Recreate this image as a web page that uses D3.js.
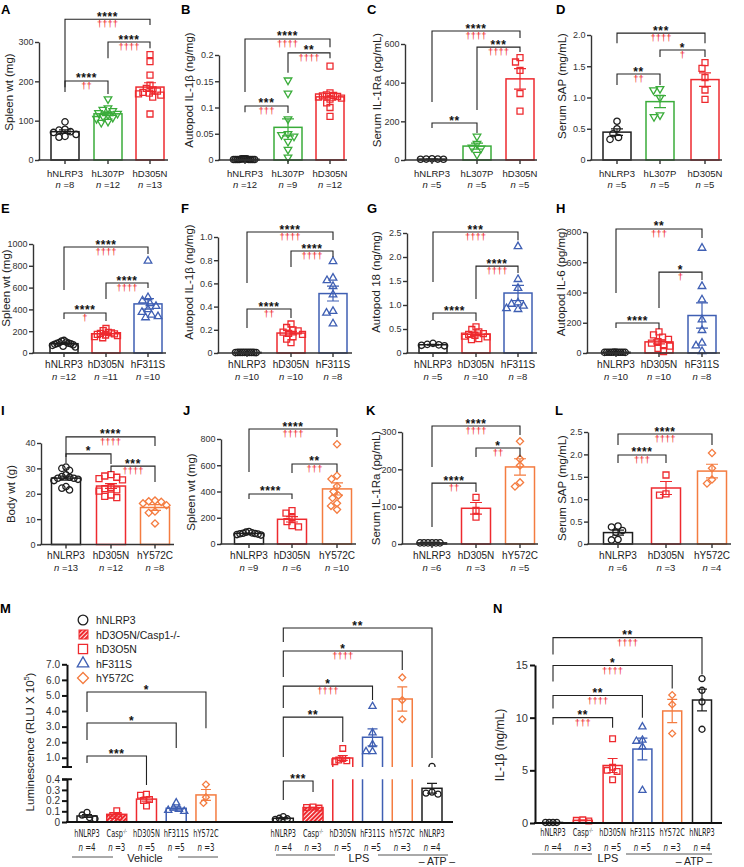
<!DOCTYPE html>
<html>
<head>
<meta charset="utf-8">
<script src="https://cdn.jsdelivr.net/npm/d3@7"></script>
<style>
  body { margin: 0; background: #fff; }
  svg { font-family: "Liberation Sans", Arial, sans-serif; }
</style>
</head>
<body>
<svg id="fig" width="744" height="867"></svg>
<script>
// group names for each row
const row1Groups = ["hNLRP3", "hL307P", "hD305N"];
const row2Groups = ["hNLRP3", "hD305N", "hF311S"];
const row3Groups = ["hNLRP3", "hD305N", "hY572C"];

// significance: [from, to, line value, left leg end, right leg end, stars, daggers]
// A - spleen wt
const aN = [8, 12, 13];
const aPts = [[97, 78, 76, 72, 70, 65, 60, 58],
  [155, 132, 128, 125, 120, 118, 115, 110, 108, 105, 98, 95],
  [268, 250, 216, 190, 182, 178, 175, 172, 170, 168, 165, 160, 117]];
const aTicks = [0, 100, 200, 300];
const aSig = [[0, 2, 358, 173, 343, "****", "††††"], [1, 2, 300, 259, 284, "****", "††††"], [0, 1, 201, 185, 168, "****", "††"]];

// B - autopod IL-1b
const bN = [12, 9, 12];
const bPts = [[0.002, 0.001, 0.001, 0.002, 0.001, 0.001, 0.002, 0.001, 0.001, 0.002, 0.001, 0.001],
  [0.152, 0.127, 0.078, 0.05, 0.048, 0.045, 0.035, 0.02, 0.005],
  [0.179, 0.128, 0.124, 0.123, 0.122, 0.121, 0.12, 0.118, 0.116, 0.109, 0.1, 0.083]];
const bTicks = [0, 0.05, 0.1, 0.15, 0.2];
const bSig = [[0, 2, 0.2305, 0.1295, 0.215, "****", "††††"], [1, 2, 0.204, 0.166, 0.194, "**", "††††"], [0, 1, 0.103, 0.091, 0.0895, "***", "†††"]];

// C - serum IL-1Ra
const cN = [5, 5, 5];
const cPts = [[6, 5, 5, 4, 4], [122, 85, 65, 60, 28], [530, 507, 464, 344, 253]];
const cTicks = [0, 200, 400, 600];
const cSig = [[0, 2, 667, 300, 631, "****", "††††"], [1, 2, 584, 259, 558, "***", "††††"], [0, 1, 191, 165, 140, "**", ""]];

// D - serum SAP
const dN = [5, 5, 5];
const dPts = [[0.62, 0.5, 0.42, 0.36, 0.33], [1.14, 1.12, 1.0, 0.72, 0.69], [1.557, 1.467, 1.32, 1.12, 0.97]];
const dTicks = [0, 0.5, 1, 1.5, 2];
const dSig = [[0, 2, 2.03, 1.87, 1.87, "***", "††††"], [1, 2, 1.76, 1.648, 1.648, "*", "†"], [0, 1, 1.376, 1.2, 1.2, "**", "††"]];

// E - spleen wt
const eN = [12, 11, 10];
const ePts = [[115, 110, 100, 95, 90, 88, 85, 80, 75, 70, 62, 55],
  [225, 205, 190, 185, 180, 175, 170, 165, 160, 150, 140],
  [845, 510, 480, 455, 430, 400, 375, 350, 335, 325]];
const eTicks = [0, 200, 400, 600, 800, 1000];
const eSig = [[0, 2, 972, 578, 908, "****", "††††"], [1, 2, 642, 495, 596, "****", "††††"], [0, 1, 367, 312, 293, "****", "†"]];

// F - autopod IL-1b
const fN = [10, 10, 8];
const fPts = [[0.005, 0.005, 0.004, 0.005, 0.006, 0.005, 0.004, 0.005, 0.005, 0.006],
  [0.25, 0.22, 0.2, 0.19, 0.18, 0.17, 0.16, 0.14, 0.12, 0.09],
  [0.79, 0.647, 0.626, 0.575, 0.503, 0.36, 0.345, 0.253]];
const fTicks = [0, 0.2, 0.4, 0.6, 0.8, 1];
const fSig = [[0, 2, 1.043, 0.603, 0.974, "****", "††††"], [1, 2, 0.879, 0.741, 0.828, "****", "††††"], [0, 1, 0.379, 0.216, 0.302, "****", "††"]];

// G - autopod 18
const gN = [5, 10, 8];
const gPts = [[0.2, 0.18, 0.17, 0.16, 0.15],
  [0.545, 0.49, 0.44, 0.405, 0.39, 0.37, 0.35, 0.335, 0.3, 0.28],
  [2.22, 1.535, 1.35, 1.05, 1.02, 0.98, 0.93, 0.91]];
const gTicks = [0, 0.5, 1, 1.5, 2, 2.5];
const gSig = [[0, 2, 2.52, 1.48, 2.35, "***", "††††"], [1, 2, 1.81, 1.125, 1.667, "****", "††††"], [0, 1, 0.833, 0.6875, 0.667, "****", ""]];

// H - autopod IL-6
const hN = [10, 10, 8];
const hPts = [[5, 5, 4, 5, 6, 5, 4, 5, 5, 6],
  [140, 120, 105, 90, 75, 65, 55, 45, 30, 10],
  [694, 441, 353, 220, 150, 66, 48, 11]];
const hTicks = [0, 200, 400, 600, 800];
const hSig = [[0, 2, 820, 397, 760, "**", "†††"], [1, 2, 535, 297, 483, "*", "†"], [0, 1, 198, 165, 159, "****", ""]];

// I - body wt
const iN = [13, 12, 8];
const iPts = [[30.5, 30, 29.2, 27.5, 26.8, 26.5, 26.1, 26.1, 25.7, 25.2, 22.8, 22.2, 21.5],
  [27.5, 27, 26.5, 26, 25.5, 22.5, 22, 21.5, 21, 19.5, 19, 18.5],
  [17.3, 17, 16.8, 16.2, 15.5, 13, 12.5, 8.3]];
const iTicks = [0, 10, 20, 30, 40];
const iSig = [[0, 2, 42.4, 34.5, 38.8, "****", "††††"], [0, 1, 35.7, 32.1, 31.7, "*", ""], [1, 2, 30.9, 28.6, 24.6, "***", "††††"]];

// J - spleen wt
const jN = [9, 6, 10];
const jPts = [[95, 90, 85, 82, 80, 78, 75, 72, 68],
  [255, 235, 200, 170, 140, 130],
  [760, 520, 495, 440, 400, 370, 350, 310, 290, 262]];
const jTicks = [0, 200, 400, 600, 800];
const jSig = [[0, 2, 876, 549, 815, "****", "††††"], [1, 2, 610, 541, 549, "**", "†††"], [0, 1, 381, 343, 343, "****", ""]];

// K - serum IL-1Ra
const kN = [6, 3, 5];
const kPts = [[3, 3, 3, 3, 3, 3], [125, 90, 72], [275, 228, 210, 165, 154]];
const kTicks = [0, 100, 200, 300];
const kSig = [[0, 2, 316, 206, 292, "****", "††††"], [1, 2, 257, 233, 233, "*", "††"], [0, 1, 163, 45.5, 139, "****", "††"]];

// L - serum SAP
const lN = [6, 3, 4];
const lPts = [[0.4, 0.38, 0.3, 0.26, 0.1, 0.09], [1.54, 1.12, 1.09], [2.03, 1.69, 1.44, 1.35]];
const lTicks = [0, 0.5, 1, 1.5, 2, 2.5];
const lSig = [[0, 2, 2.455, 2.21, 2.21, "****", "††††"], [0, 1, 1.987, 1.81, 1.81, "****", "†††"]];

// M - luminescence, broken axis
const mGroups = ["hNLRP3", "Casp", "hD305N", "hF311S", "hY572C", "hNLRP3", "Casp", "hD305N", "hF311S", "hY572C", "hNLRP3"];
const mN = [4, 3, 5, 5, 3, 4, 3, 5, 5, 3, 4];
const mPts = [[0.09, 0.065, 0.04, 0.03], [0.105, 0.06, 0.05], [0.26, 0.25, 0.21, 0.2, 0.15], [0.18, 0.13, 0.12, 0.11, 0.1], [0.35, 0.231, 0.178],
  [0.05, 0.035, 0.03, 0.025], [0.14, 0.135, 0.13], [1.6, 0.95, 0.85, 0.8, 0.75], [4.3, 2.6, 1.85, 1.4, 1.4], [6.16, 4.7, 3.47], [0.45, 0.28, 0.27, 0.26]];
const mUpTicks = [1, 2, 3, 4, 5, 6, 7];
const mLoTicks = [0, 0.1, 0.2, 0.3, 0.4];
const mSig = [[0, 4, 5.22, 3.93, 2.9, "*", ""], [0, 3, 3.23, 2.14, 1.62, "*", ""], [0, 2, 1.11, 0.66, 0.346, "***", ""],
  [5, 10, 9.33, 8.43, 0.98, "**", ""], [5, 9, 7.85, 6.18, 6.63, "*", "††††"], [5, 8, 5.6, 4.19, 4.71, "*", "††††"],
  [5, 7, 3.61, 1.05, 2.01, "**", ""], [5, 6, 0.383, 0.206, 0.28, "***", ""]];
const mLegend = ["hNLRP3", "hD3O5N/Casp1-/-", "hD3O5N", "hF311S", "hY572C"];
const mLegendKeys = ["hNLRP3", "Casp", "hD305N", "hF311S", "hY572C"];

// N - IL-1b
const nGroups = ["hNLRP3", "Casp", "hD305N", "hF311S", "hY572C", "hNLRP3"];
const nN = [4, 3, 5, 5, 3, 4];
const nPts = [[0.05, 0.05, 0.05, 0.05], [0.3, 0.25, 0.2], [8.0, 5.3, 5.0, 4.9, 4.1], [9.13, 7.87, 7.77, 7.23, 3.1], [12.15, 11.26, 8.5], [13.7, 12.6, 11.5, 8.9]];
const nTicks = [0, 5, 10, 15];
const nSig = [[0, 5, 17.6, 16.0, 14.1, "**", "††††"], [0, 4, 14.95, 13.43, 12.76, "*", "††††"], [0, 3, 12.1, 10.86, 10.0, "**", "††††"], [0, 2, 10.0, 9.33, 9.05, "**", "†††"]];

const svg = d3.select("#fig");
const color = { hNLRP3: "#1e1e1e", hL307P: "#3aac3a", hD305N: "#ee2a2f", Casp: "#ee2a2f", hF311S: "#3f5fb3", hY572C: "#f47c40" };
const shape = { hNLRP3: "circle", hL307P: "tridown", hD305N: "square", Casp: "square", hF311S: "tri", hY572C: "diamond" };
const symDef = {
  circle: [d3.symbolCircle, 32, 0],
  square: [d3.symbolSquare, 36, 0],
  tri: [d3.symbolTriangle, 25, 0],
  tridown: [d3.symbolTriangle, 25, 180],
  diamond: [d3.symbolSquare, 26, 45]
};
const f1 = v => v === 0 ? "0" : d3.format(".1f")(v);
const fs = v => String(v);
const fd = d3.format("d");

const defs = svg.append("defs");
const pat = defs.append("pattern").attr("id", "hatch").attr("patternUnits", "userSpaceOnUse")
  .attr("width", 3).attr("height", 3).attr("patternTransform", "rotate(45)");
pat.append("rect").attr("width", 3).attr("height", 3).attr("fill", "#ee2a2f");
pat.append("line").attr("x1", 0.5).attr("y1", 0).attr("x2", 0.5).attr("y2", 3).attr("stroke", "#fff").attr("stroke-width", 0.9);
defs.append("clipPath").attr("id", "upclip").append("rect").attr("x", 0).attr("y", 0).attr("width", 744).attr("height", 767.1);

function drawMarker(g, name, cx, cy, k) {
  const [t, s, rot] = symDef[shape[name]];
  return g.append("path").attr("d", d3.symbol(t, s * (k || 1))())
    .attr("transform", `translate(${cx},${cy}) rotate(${rot})`)
    .attr("fill", "none").attr("stroke", color[name]).attr("stroke-width", 1.3);
}

// spread points sideways so they do not sit on top of each other
function swarm(vals, yf, cx, r, hw) {
  const items = vals.map(v => ({ v: v, y: yf(v) }));
  const placed = [];
  const dmin = 2 * r * 0.95;
  items.slice().sort((a, b) => a.y - b.y).forEach(p => {
    let off = 0;
    for (let k = 0; k < 400; k++) {
      const o = (k % 2 ? -1 : 1) * Math.ceil(k / 2) * 0.5;
      if (placed.every(q => (q.dx - o) ** 2 + (q.y - p.y) ** 2 >= dmin * dmin)) { off = o; break; }
    }
    p.dx = off;
    placed.push(p);
  });
  const mx = d3.max(placed, p => Math.abs(p.dx)) || 1;
  const s = mx > hw ? hw / mx : 1;
  items.forEach(p => { p.x = cx + p.dx * s; });
  return items;
}

function sem(v) { return v.length > 1 ? d3.deviation(v) / Math.sqrt(v.length) : 0; }

function errBar(g, cx, y1, y2, col, cap) {
  g.append("path").attr("d", `M${cx},${y1}V${y2}M${cx - cap},${y1}H${cx + cap}M${cx - cap},${y2}H${cx + cap}`)
    .attr("fill", "none").attr("stroke", col).attr("stroke-width", 1.2);
}

function drawSig(g, xf, yf, sig) {
  sig.forEach(s => {
    const [i, j, lv, li, lj, st, dg] = s;
    g.append("path").attr("d", `M${xf(i)},${yf(li)}V${yf(lv)}H${xf(j)}V${yf(lj)}`)
      .attr("fill", "none").attr("stroke", "#222").attr("stroke-width", 1.1);
    const mx = (xf(i) + xf(j)) / 2;
    g.append("text").attr("x", mx).attr("y", yf(lv) + 1.5).attr("text-anchor", "middle")
      .attr("font-size", 12).attr("font-weight", "bold").attr("letter-spacing", 0.6).attr("fill", "#111").text(st);
    if (dg) g.append("text").attr("x", mx).attr("y", yf(lv) + 8).attr("text-anchor", "middle")
      .attr("font-size", 9.5).attr("fill", "#ee1c25").text(dg);
  });
}

function styleAxis(ax, size, sw, col) {
  ax.attr("font-family", null).attr("font-size", null);
  ax.select(".domain").attr("stroke", col).attr("stroke-width", sw);
  ax.selectAll(".tick line").attr("stroke", col).attr("stroke-width", sw);
  ax.selectAll(".tick text").attr("font-size", size).attr("fill", "#333");
}

function drawPanel(p) {
  const g = svg.append("g");
  const y = d3.scaleLinear().domain([0, d3.max(p.ticks)]).range([p.y0, p.yTop]);
  const x = d3.scaleOrdinal().domain(d3.range(p.groups.length)).range(p.centers);
  const bw = p.bw;

  g.append("text").attr("x", p.lx).attr("y", p.ly).attr("font-size", 13).attr("font-weight", "bold").text(p.L);
  g.append("text").attr("transform", `translate(${p.tx},${p.ty}) rotate(-90)`).attr("text-anchor", "middle")
    .attr("font-size", 11.5).attr("fill", "#222").text(p.title);

  p.groups.forEach((name, i) => {
    const v = p.pts[i], col = color[name];
    const m = d3.mean(v), se = sem(v);
    g.append("rect").attr("x", x(i) - bw / 2).attr("width", bw).attr("y", y(m)).attr("height", p.y0 - y(m))
      .attr("fill", "none").attr("stroke", col).attr("stroke-width", 1.5);
    if (se > 0) errBar(g, x(i), y(m - se), y(m + se), col, 6);
    swarm(v, y, x(i), 3.3, bw / 2 - 2.5).forEach(d => drawMarker(g, name, d.x, d.y));
    g.append("line").attr("x1", x(i)).attr("x2", x(i)).attr("y1", p.y0).attr("y2", p.y0 + 4)
      .attr("stroke", "#333").attr("stroke-width", 1.4);
    g.append("text").attr("x", x(i)).attr("y", p.labY).attr("text-anchor", "middle")
      .attr("font-size", p.labSize).attr("fill", "#222").text(name);
    const t = g.append("text").attr("x", x(i)).attr("y", p.nY).attr("text-anchor", "middle")
      .attr("font-size", 9.5).attr("fill", "#222");
    t.append("tspan").attr("font-style", "italic").text("n");
    t.append("tspan").text(" =" + p.n[i]);
  });

  const ax = g.append("g").attr("transform", `translate(${p.axisX},0)`)
    .call(d3.axisLeft(y).tickValues(p.ticks).tickFormat(p.fmt).tickSize(4).tickSizeOuter(0).tickPadding(1.5));
  styleAxis(ax, 9, 1.4, "#333");
  g.append("line").attr("x1", p.axisX - 0.7).attr("x2", p.xEnd).attr("y1", p.y0).attr("y2", p.y0)
    .attr("stroke", "#333").attr("stroke-width", 1.4);

  drawSig(g, x, y, p.sig);
}

const panels = [
  { L: "A", lx: 1, ly: 14, groups: row1Groups, n: aN, pts: aPts, ticks: aTicks, fmt: fd, sig: aSig, title: "Spleen wt (mg)", tx: 13, ty: 92, axisX: 39, centers: [65, 108, 150], y0: 160, yTop: 42, xEnd: 168, bw: 28, labY: 176.5, nY: 187.5, labSize: 9.5 },
  { L: "B", lx: 181, ly: 14, groups: row1Groups, n: bN, pts: bPts, ticks: bTicks, fmt: fs, sig: bSig, title: "Autopod IL-1β (ng/mg)", tx: 193, ty: 90, axisX: 219, centers: [245, 288, 330], y0: 160, yTop: 55, xEnd: 347, bw: 28, labY: 176.5, nY: 187.5, labSize: 9.5 },
  { L: "C", lx: 367, ly: 14, groups: row1Groups, n: cN, pts: cPts, ticks: cTicks, fmt: fd, sig: cSig, title: "Serum IL-1Ra (pg/mL)", tx: 381, ty: 90, axisX: 405, centers: [432, 477, 520], y0: 160, yTop: 44, xEnd: 537, bw: 28, labY: 176.5, nY: 187.5, labSize: 9.5 },
  { L: "D", lx: 556, ly: 14, groups: row1Groups, n: dN, pts: dPts, ticks: dTicks, fmt: f1, sig: dSig, title: "Serum SAP (mg/mL)", tx: 566, ty: 86, axisX: 591, centers: [617, 660, 705], y0: 160, yTop: 35, xEnd: 722, bw: 28, labY: 176.5, nY: 187.5, labSize: 9.5 },
  { L: "E", lx: 1, ly: 213, groups: row2Groups, n: eN, pts: ePts, ticks: eTicks, fmt: fd, sig: eSig, title: "Spleen wt (mg)", tx: 10, ty: 288, axisX: 33, centers: [64, 106, 148], y0: 353, yTop: 244, xEnd: 166, bw: 28, labY: 368, nY: 380, labSize: 10 },
  { L: "F", lx: 181, ly: 213, groups: row2Groups, n: fN, pts: fPts, ticks: fTicks, fmt: f1, sig: fSig, title: "Autopod IL-1β (ng/mg)", tx: 193, ty: 282, axisX: 218, centers: [247, 291, 333], y0: 353, yTop: 237, xEnd: 352, bw: 28, labY: 368, nY: 380, labSize: 10 },
  { L: "G", lx: 367, ly: 213, groups: row2Groups, n: gN, pts: gPts, ticks: gTicks, fmt: f1, sig: gSig, title: "Autopod 18 (ng/mg)", tx: 380, ty: 282, axisX: 407, centers: [433, 476, 518], y0: 353, yTop: 233, xEnd: 537, bw: 28, labY: 368, nY: 380, labSize: 10 },
  { L: "H", lx: 556, ly: 213, groups: row2Groups, n: hN, pts: hPts, ticks: hTicks, fmt: fd, sig: hSig, title: "Autopod IL-6 (pg/mg)", tx: 565, ty: 282, axisX: 587, centers: [616, 659, 702], y0: 353, yTop: 232, xEnd: 720, bw: 28, labY: 368, nY: 380, labSize: 10 },
  { L: "I", lx: 1, ly: 415, groups: row3Groups, n: iN, pts: iPts, ticks: iTicks, fmt: fd, sig: iSig, title: "Body wt (g)", tx: 15, ty: 494, axisX: 41, centers: [66, 111, 155], y0: 544.5, yTop: 443, xEnd: 174, bw: 29, labY: 559, nY: 571, labSize: 10 },
  { L: "J", lx: 183, ly: 415, groups: row3Groups, n: jN, pts: jPts, ticks: jTicks, fmt: fd, sig: jSig, title: "Spleen wt (mg)", tx: 195, ty: 492, axisX: 221, centers: [249, 292, 337], y0: 544, yTop: 439, xEnd: 356, bw: 29, labY: 559, nY: 571, labSize: 10 },
  { L: "K", lx: 366, ly: 415, groups: row3Groups, n: kN, pts: kPts, ticks: kTicks, fmt: fd, sig: kSig, title: "Serum IL-1Ra (pg/mL)", tx: 380, ty: 488, axisX: 402, centers: [432, 476, 520], y0: 544, yTop: 432, xEnd: 538, bw: 29, labY: 559, nY: 571, labSize: 10 },
  { L: "L", lx: 555, ly: 415, groups: row3Groups, n: lN, pts: lPts, ticks: lTicks, fmt: f1, sig: lSig, title: "Serum SAP (mg/mL)", tx: 566, ty: 488, axisX: 588, centers: [618, 666, 712], y0: 544, yTop: 432, xEnd: 731, bw: 29, labY: 559, nY: 571, labSize: 10 }
];
panels.forEach(drawPanel);

// condensed tick labels used under M and N
const narrow = "'Liberation Sans Narrow','DejaVu Sans Condensed',sans-serif";
function condLabel(g, cx, labY, nY, name, nv) {
  const t = g.append("text").attr("transform", `translate(${cx},${labY}) scale(0.7,1)`).attr("text-anchor", "middle")
    .attr("font-family", narrow).attr("font-size", 10.5).attr("fill", "#222");
  if (name === "Casp") {
    t.append("tspan").text("Casp");
    t.append("tspan").attr("font-size", 6).attr("dy", -4).text("-/-");
  } else t.text(name);
  const tn = g.append("text").attr("transform", `translate(${cx},${nY}) scale(0.75,1)`).attr("text-anchor", "middle")
    .attr("font-family", narrow).attr("font-size", 10.5).attr("fill", "#222");
  tn.append("tspan").attr("font-style", "italic").text("n");
  tn.append("tspan").text(" =" + nv);
}

function groupNote(g, x1, x2, x3, x4, ly, label, lx, ty) {
  g.append("path").attr("d", `M${x1},${ly}H${x2}M${x3},${ly}H${x4}`).attr("stroke", "#555").attr("stroke-width", 1);
  g.append("text").attr("x", lx).attr("y", ty).attr("text-anchor", "middle").attr("font-size", 11).attr("fill", "#222").text(label);
}

// ---------- M ----------
const mg = svg.append("g");
const mX = d3.scaleLinear().domain([0, 11.6]).range([87, 432]);
const mSlots = [0, 1, 2, 3, 4, 6.6, 7.6, 8.6, 9.6, 10.6, 11.6];
const mx = i => mX(mSlots[i]);
const yUp = d3.scaleLinear().domain([0.4, 7]).range([767.1, 664.3]);
const yLo = d3.scaleLinear().domain([0, 0.4]).range([822, 779.2]);
const yM = v => v <= 0.4 ? yLo(v) : yUp(v);
const mBw = 20;

mg.append("text").attr("x", 0).attr("y", 613).attr("font-size", 13).attr("font-weight", "bold").text("M");
const mt = mg.append("text").attr("transform", "translate(34,742) rotate(-90)").attr("text-anchor", "middle")
  .attr("font-size", 11.5).attr("fill", "#222");
mt.append("tspan").text("Luminescence (RLU X 10");
mt.append("tspan").attr("font-size", 7).attr("dy", -5).text("5");
mt.append("tspan").attr("dy", 5).text(")");

mGroups.forEach((name, i) => {
  const v = mPts[i], col = color[name], cx = mx(i);
  const m = d3.mean(v), se = sem(v);
  const fill = name === "Casp" ? "url(#hatch)" : "none";
  if (m <= 0.4) {
    mg.append("rect").attr("x", cx - mBw / 2).attr("width", mBw).attr("y", yLo(m)).attr("height", 822 - yLo(m))
      .attr("fill", fill).attr("stroke", col).attr("stroke-width", 1.5);
  } else {
    mg.append("path").attr("d", `M${cx - mBw / 2},822V${yLo(0.4)}M${cx + mBw / 2},822V${yLo(0.4)}`)
      .attr("stroke", col).attr("stroke-width", 1.5);
    mg.append("path").attr("d", `M${cx - mBw / 2},${yUp(0.4)}V${yUp(m)}H${cx + mBw / 2}V${yUp(0.4)}`)
      .attr("fill", "none").attr("stroke", col).attr("stroke-width", 1.5);
  }
  if (se > 0) errBar(mg, cx, yM(m - se), yM(m + se), col, 5);
  const pg = mg.append("g").attr("clip-path", d3.max(v) > 0.4 ? "url(#upclip)" : null);
  swarm(v, yM, cx, 3.2, mBw / 2 - 2).forEach(d => drawMarker(d.v > 0.4 ? pg : mg, name, d.x, d.y, 0.9));
  condLabel(mg, cx, 837, 851, name, mN[i]);
});

const axU = mg.append("g").attr("transform", "translate(67,0)")
  .call(d3.axisLeft(yUp).tickValues(mUpTicks).tickFormat(d3.format(".1f")).tickSize(5).tickSizeOuter(0).tickPadding(2));
styleAxis(axU, 10, 2, "#111");
const axL = mg.append("g").attr("transform", "translate(67,0)")
  .call(d3.axisLeft(yLo).tickValues(mLoTicks).tickFormat(f1).tickSize(5).tickSizeOuter(0).tickPadding(2));
styleAxis(axL, 10, 2, "#111");
mg.append("path").attr("d", `M62,${yUp(0.4)}H72M62,${yLo(0.4)}H72`).attr("stroke", "#111").attr("stroke-width", 2);
mg.append("line").attr("x1", 66).attr("x2", 453).attr("y1", 822).attr("y2", 822).attr("stroke", "#111").attr("stroke-width", 2);

drawSig(mg, mx, yM, mSig);

mLegend.forEach((lab, i) => {
  const ly = 620 + i * 14.5, key = mLegendKeys[i];
  if (key === "Casp") {
    mg.append("rect").attr("x", 79).attr("y", ly - 4.5).attr("width", 9).attr("height", 9)
      .attr("fill", "url(#hatch)").attr("stroke", color[key]).attr("stroke-width", 1);
  } else drawMarker(mg, key, 83, ly, 2.3);
  mg.append("text").attr("x", 96).attr("y", ly + 4).attr("font-size", 10.5).attr("fill", "#222").text(lab);
});

groupNote(mg, 72, 113, 178, 218, 857, "Vehicle", 145, 862);
groupNote(mg, 276, 335, 378, 448, 855, "LPS", 359, 862);
mg.append("text").attr("x", 437).attr("y", 865).attr("text-anchor", "middle").attr("font-size", 10.5).attr("fill", "#222").text("– ATP –");

// ---------- N ----------
const ng = svg.append("g");
const nY = d3.scaleLinear().domain([0, 15]).range([823, 665]);
const nXs = d3.scaleLinear().domain([0, 5]).range([553, 702]);
const nBw = 19;
ng.append("text").attr("x", 493).attr("y", 613).attr("font-size", 13).attr("font-weight", "bold").text("N");
ng.append("text").attr("transform", "translate(504,745) rotate(-90)").attr("text-anchor", "middle")
  .attr("font-size", 12).attr("fill", "#222").text("IL-1β (ng/mL)");

nGroups.forEach((name, i) => {
  const v = nPts[i], col = color[name], cx = nXs(i);
  const m = d3.mean(v), se = sem(v);
  ng.append("rect").attr("x", cx - nBw / 2).attr("width", nBw).attr("y", nY(m)).attr("height", 823 - nY(m))
    .attr("fill", "none").attr("stroke", col).attr("stroke-width", 1.5);
  if (se > 0.02) errBar(ng, cx, nY(m - se), nY(m + se), col, 5);
  swarm(v, nY, cx, 3.2, nBw / 2 - 2).forEach(d => drawMarker(ng, name, d.x, d.y, 0.9));
  condLabel(ng, cx, 836, 851, name, nN[i]);
});
const axN = ng.append("g").attr("transform", "translate(535,0)")
  .call(d3.axisLeft(nY).tickValues(nTicks).tickFormat(fd).tickSize(5).tickSizeOuter(0).tickPadding(2));
styleAxis(axN, 11, 2, "#111");
ng.append("line").attr("x1", 534).attr("x2", 722).attr("y1", 823).attr("y2", 823).attr("stroke", "#111").attr("stroke-width", 2);
drawSig(ng, nXs, nY, nSig);
groupNote(ng, 532, 592, 626, 712, 854, "LPS", 608, 862);
ng.append("text").attr("x", 694).attr("y", 865).attr("text-anchor", "middle").attr("font-size", 10.5).attr("fill", "#222").text("– ATP –");
</script>
</body>
</html>
